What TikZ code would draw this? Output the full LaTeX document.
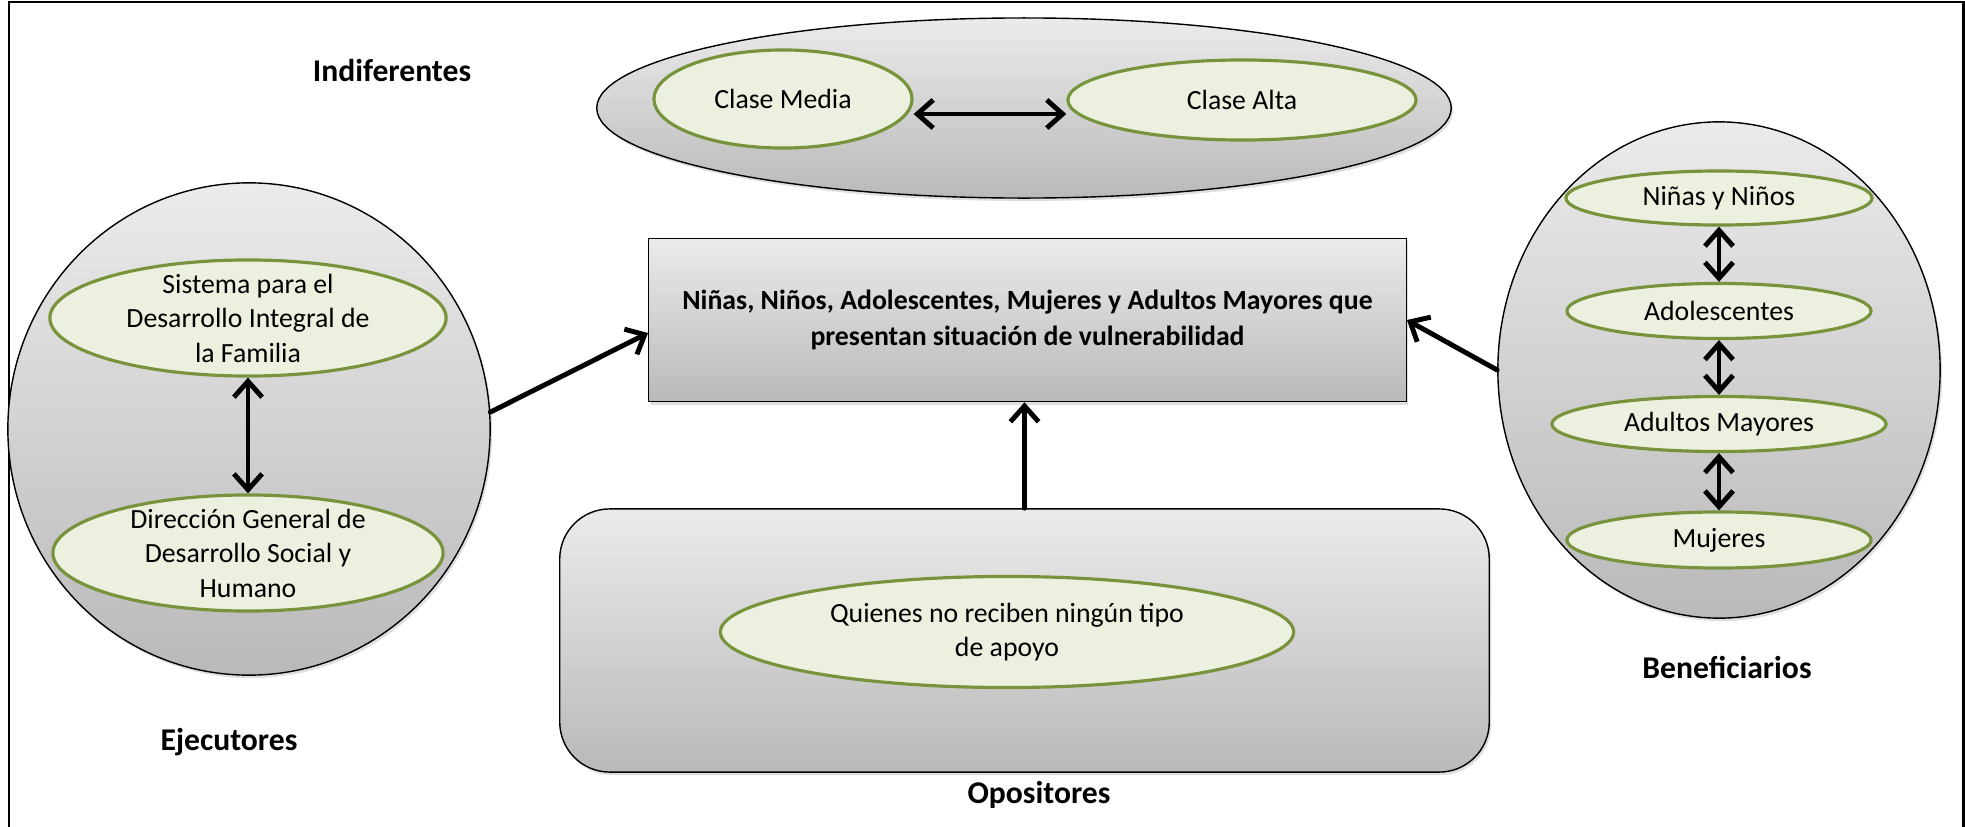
\documentclass[tikz,border=0pt]{standalone}
\usepackage{fontspec}
\setmainfont{Carlito}
\usepackage{tikz}
\usetikzlibrary{shapes.geometric, arrows.meta, shadows}
\definecolor{grisTop}{HTML}{EBEBEB}
\definecolor{grisBot}{HTML}{B9B9B9}
\definecolor{verdeFill}{HTML}{EBF1DE}
\definecolor{verdeLine}{HTML}{77933C}

\begin{document}
\begin{tikzpicture}[x=0.01cm, y=-0.01cm,
    every node/.style={font=\fontsize{7.9}{9.8}\selectfont},
    grupo/.style={draw=black, line width=0.4pt, top color=grisTop, bottom color=grisBot, inner sep=0pt,
        drop shadow={opacity=0.25, shadow xshift=0.02cm, shadow yshift=-0.03cm}},
    actor/.style={ellipse, draw=verdeLine, line width=0.9pt, fill=verdeFill, inner sep=0pt, align=center},
    titulo/.style={font=\fontsize{9}{11}\selectfont\bfseries},
    flecha/.style={-{Straight Barb[length=4.5pt, width=8pt]}, line width=1.4pt, line cap=round},
    dobleflecha/.style={{Straight Barb[length=4.5pt, width=8pt]}-{Straight Barb[length=4.5pt, width=8pt]}, line width=1.4pt}]
    \useasboundingbox (0,0) rectangle (1965,827);
    % Frame
    \draw[line width=0.85pt] (9,827) -- (9,2) -- (1963,2) -- (1963,827);

    % TOP: Indiferentes
    \node[titulo] (indiftxt) at (392,71) {Indiferentes};
    \node[grupo, ellipse, minimum width=8.54cm, minimum height=1.80cm] (indif) at (1024,108) {};
    \node[actor, minimum width=2.58cm, minimum height=0.98cm] (cmedia) at (783,99) {Clase Media};
    \node[actor, minimum width=3.48cm, minimum height=0.80cm] (calta) at (1242,100) {Clase Alta};
    \draw[dobleflecha] ([yshift=-0.15cm]cmedia.east) -- ([yshift=-0.14cm]calta.west);

    % LEFT: Ejecutores
    \node[grupo, ellipse, minimum width=4.82cm, minimum height=4.92cm] (ejec) at (249,429) {};
    \node[actor, minimum width=3.96cm, minimum height=1.16cm,
        label={[align=center]center:Sistema para el\\Desarrollo Integral de\\la Familia}] (sist) at (248,318) {};
    \node[actor, minimum width=3.90cm, minimum height=1.16cm,
        label={[align=center]center:Dirección General de\\Desarrollo Social y\\Humano}] (dir) at (248,553) {};
    \draw[dobleflecha] (sist) -- (dir);
    \node[titulo] (ejectxt) at (229,742) {Ejecutores};

    % MIDDLE: the target population
    \node[grupo, rectangle, minimum width=7.57cm, minimum height=1.63cm, align=center,
        font=\fontsize{7.9}{10}\selectfont\bfseries] (centro) at (1027.5,320)
        {Niñas, Niños, Adolescentes, Mujeres y Adultos Mayores que\\presentan situación de vulnerabilidad};

    % BOTTOM: Opositores
    \node[grupo, rectangle, rounded corners=0.5cm, minimum width=9.29cm, minimum height=2.63cm] (oppo) at (1024.5,640.5) {};
    \node[actor, minimum width=5.73cm, minimum height=1.11cm] (quien) at (1007,632) {Quienes no reciben ningún tipo\\de apoyo};
    \node[titulo] (opotxt) at (1039,795) {Opositores};

    % RIGHT: Beneficiarios
    \node[grupo, ellipse, minimum width=4.42cm, minimum height=4.96cm] (benef) at (1719,370) {};
    \node[actor, minimum width=3.06cm, minimum height=0.54cm] (ninos) at (1719,198) {Niñas y Niños};
    \node[actor, minimum width=3.04cm, minimum height=0.55cm] (adol) at (1719,311) {Adolescentes};
    \node[actor, minimum width=3.34cm, minimum height=0.55cm] (adult) at (1719,424) {Adultos Mayores};
    \node[actor, minimum width=3.04cm, minimum height=0.56cm] (muj) at (1719,540) {Mujeres};
    \draw[dobleflecha] (ninos) -- (adol);
    \draw[dobleflecha] (adol) -- (adult);
    \draw[dobleflecha] (adult) -- (muj);
    \node[titulo] (beneftxt) at (1727,667) {Beneficiarios};

    % Arrows into the target population
    \draw[flecha] (ejec.4) -- ([yshift=-0.13cm]centro.west);
    \draw[flecha] (benef.west) -- (centro.east);
    \draw[flecha] (oppo.north) -- (oppo.north |- centro.south);
\end{tikzpicture}
\end{document}
